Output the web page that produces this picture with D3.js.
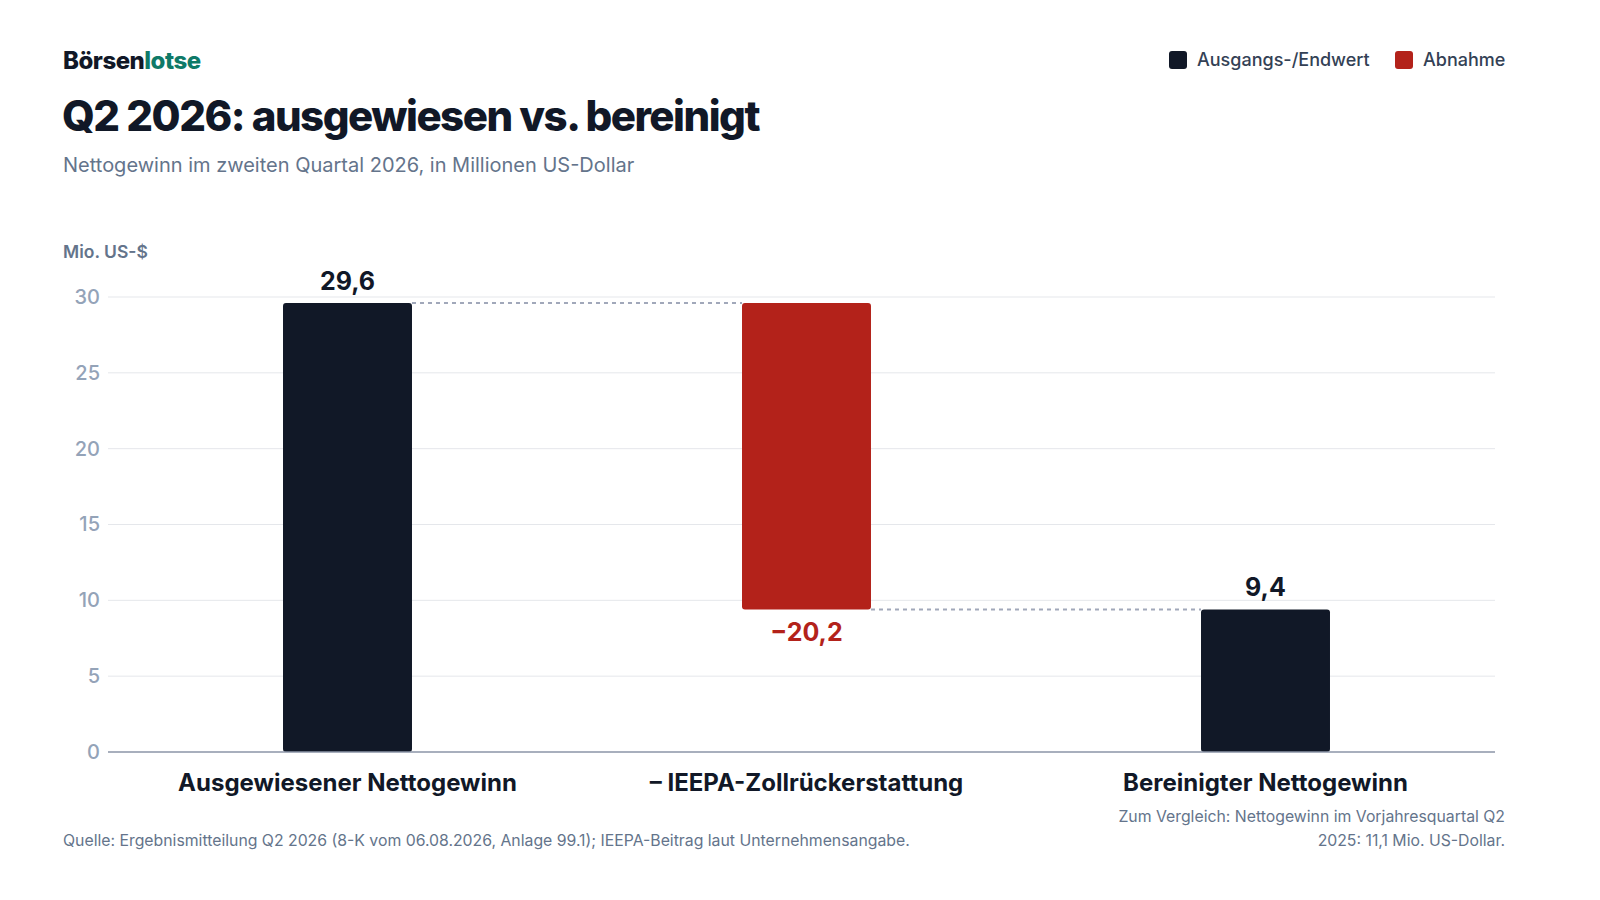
<!DOCTYPE html>
<html><head><meta charset="utf-8">
<script src="https://cdn.jsdelivr.net/npm/d3@7/dist/d3.min.js"></script>
<style>
body{margin:0;background:#fff;font-family:Inter,"Noto Sans",sans-serif;}
svg{display:block}
</style></head><body>
<svg id="c" width="1600" height="900"></svg>
<script>
const categories = ["Ausgewiesener Nettogewinn", "\u2013 IEEPA-Zollrückerstattung", "Bereinigter Nettogewinn"];
const values = [29.6, -20.2, 9.4];
const types = ["total", "decrease", "total"];
const valueLabels = ["29,6", "\u221220,2", "9,4"];
const yTicks = [0, 5, 10, 15, 20, 25, 30];
const legendItems = ["Ausgangs-/Endwert", "Abnahme"];

const colors = {total: "#111827", decrease: "#b3221a"};
const svg = d3.select("#c");

// compute waterfall
let run = 0;
const bars = categories.map((c, i) => {
  let y0, y1;
  if (types[i] === "total") { y0 = 0; y1 = values[i]; run = values[i]; }
  else { y0 = run; y1 = run + values[i]; run = y1; }
  return {cat: c, y0, y1, type: types[i], label: valueLabels[i], v: values[i]};
});

const x = d3.scaleBand().domain(categories).range([118, 1495]).paddingInner(0.719).paddingOuter(0.3595);
const y = d3.scaleLinear().domain([0, 30]).range([752, 297]);

// header
const logo = svg.append("text").attr("x", 63).attr("y", 69).attr("font-size", 24).attr("font-weight", 800).attr("letter-spacing", -0.5);
logo.append("tspan").attr("fill", "#111827").text("Börsen");
logo.append("tspan").attr("fill", "#0f7a68").text("lotse");
svg.append("text").attr("x", 62).attr("y", 131).attr("font-size", 42).attr("font-weight", 800).attr("letter-spacing", -1.5).attr("fill", "#111827").text("Q2 2026: ausgewiesen vs. bereinigt");
svg.append("text").attr("x", 63).attr("y", 172).attr("font-size", 20).attr("fill", "#64748b").text("Nettogewinn im zweiten Quartal 2026, in Millionen US-Dollar");

// legend
const lg = svg.append("g");
const legX = [1169, 1395];
legendItems.forEach((t, i) => {
  lg.append("rect").attr("x", legX[i]).attr("y", 51).attr("width", 18).attr("height", 18).attr("rx", 3).attr("fill", i === 0 ? colors.total : colors.decrease);
  lg.append("text").attr("x", legX[i] + 28).attr("y", 66).attr("font-size", 18).attr("font-weight", 500).attr("fill", "#334155").text(t);
});

// axis title
svg.append("text").attr("x", 63).attr("y", 258).attr("font-size", 17.5).attr("font-weight", 600).attr("fill", "#64748b").text("Mio. US-$");

// grid
svg.append("g").selectAll("line").data(yTicks.filter(d => d > 0)).join("line")
  .attr("x1", 108).attr("x2", 1495).attr("y1", d => y(d)).attr("y2", d => y(d))
  .attr("stroke", "#e5e7eb").attr("stroke-width", 1);

// y axis tick labels
const yAxis = svg.append("g").attr("transform", "translate(108,0)")
  .call(d3.axisLeft(y).tickValues(yTicks).tickSize(0).tickPadding(8));
yAxis.select(".domain").remove();
yAxis.selectAll("text").attr("font-family", "Inter").attr("font-size", 20).attr("font-weight", 500).attr("fill", "#94a3b8");

// connectors
const conn = [];
for (let i = 0; i < bars.length - 1; i++) {
  conn.push({x1: x(bars[i].cat) + x.bandwidth(), x2: x(bars[i + 1].cat), v: bars[i].y1});
}
svg.append("g").selectAll("line").data(conn).join("line")
  .attr("x1", d => d.x1).attr("x2", d => d.x2).attr("y1", d => y(d.v)).attr("y2", d => y(d.v))
  .attr("stroke", "#a1a8ba").attr("stroke-width", 2).attr("stroke-dasharray", "4,4");

// bars
svg.append("g").selectAll("rect").data(bars).join("rect")
  .attr("x", d => x(d.cat)).attr("width", x.bandwidth())
  .attr("y", d => y(Math.max(d.y0, d.y1))).attr("height", d => Math.abs(y(d.y0) - y(d.y1)))
  .attr("rx", 3).attr("fill", d => colors[d.type]);

// baseline
svg.append("line").attr("x1", 108).attr("x2", 1495).attr("y1", y(0)).attr("y2", y(0)).attr("stroke", "#8b95a7").attr("stroke-width", 1.5);

// value labels
svg.append("g").selectAll("text").data(bars).join("text")
  .attr("x", d => x(d.cat) + x.bandwidth() / 2)
  .attr("y", d => d.v < 0 ? y(Math.min(d.y0, d.y1)) + 32 : y(Math.max(d.y0, d.y1)) - 13)
  .attr("text-anchor", "middle").attr("font-size", 25).attr("font-weight", 700)
  .attr("fill", d => d.v < 0 ? colors.decrease : colors.total).text(d => d.label);

// category labels
svg.append("g").selectAll("text").data(categories).join("text")
  .attr("x", d => x(d) + x.bandwidth() / 2).attr("y", 791)
  .attr("text-anchor", "middle").attr("font-size", 24).attr("font-weight", 700).attr("fill", "#111827").text(d => d);

// footer
svg.append("text").attr("x", 63).attr("y", 846).attr("font-size", 15.8).attr("fill", "#64748b")
  .text("Quelle: Ergebnismitteilung Q2 2026 (8-K vom 06.08.2026, Anlage 99.1); IEEPA-Beitrag laut Unternehmensangabe.");
const note = svg.append("text").attr("text-anchor", "end").attr("font-size", 15.8).attr("fill", "#64748b");
note.append("tspan").attr("x", 1505).attr("y", 822).text("Zum Vergleich: Nettogewinn im Vorjahresquartal Q2");
note.append("tspan").attr("x", 1505).attr("y", 846).text("2025: 11,1 Mio. US-Dollar.");
</script>
</body></html>
